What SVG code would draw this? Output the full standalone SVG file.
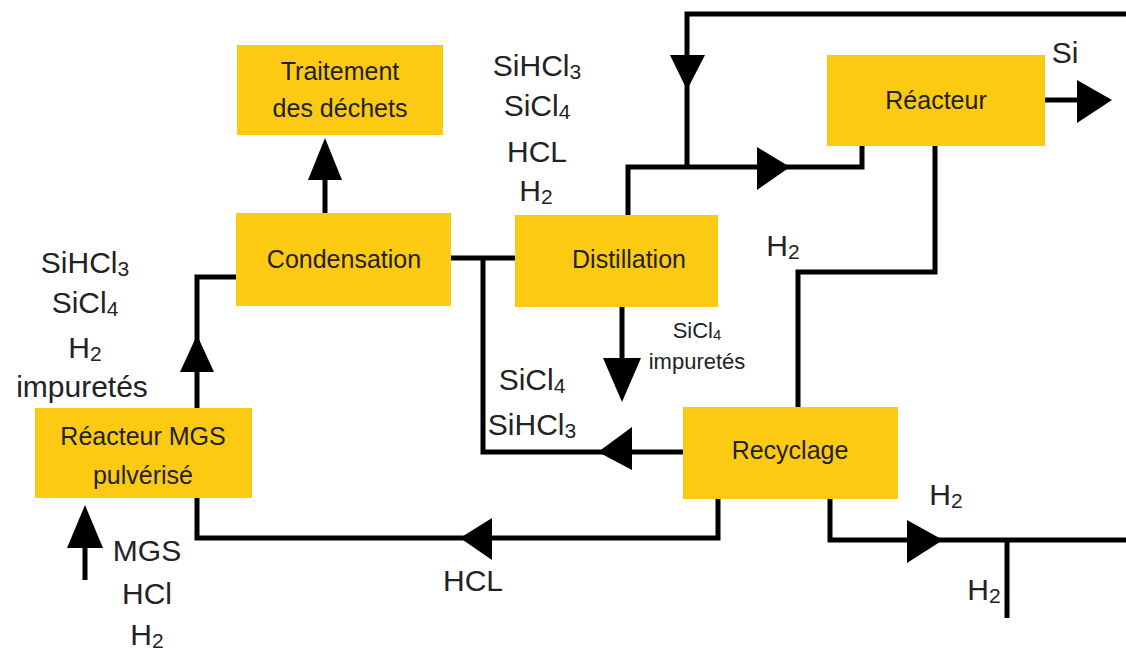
<svg xmlns="http://www.w3.org/2000/svg" width="1126" height="650" viewBox="0 0 1126 650">
<style>
.box{fill:#FCC913}
.bl{font-family:"Liberation Sans",Arial,sans-serif;font-size:25px;fill:#222;text-anchor:middle}
.lb{font-family:"Liberation Sans",Arial,sans-serif;font-size:30px;fill:#222;text-anchor:middle}
.sm{font-family:"Liberation Sans",Arial,sans-serif;font-size:22px;fill:#222;text-anchor:middle}
.sub{font-size:21px}
.ssub{font-size:15px}
.ln{fill:none;stroke:#000;stroke-width:5;stroke-linejoin:miter}
.ah{fill:#000}
</style>
<rect width="1126" height="650" fill="#fff"/>
<g id="connectors">
<polyline class="ln" points="197,408 197,277 236,277"/>
<polygon class="ah" points="197,335 180,372 214,372"/>
<polyline class="ln" points="325,213 325,145"/>
<polygon class="ah" points="325,138 308,180 342,180"/>
<polyline class="ln" points="451,258 515,258"/>
<polyline class="ln" points="483,258 483,452 683,452"/>
<polygon class="ah" points="598,452 632,427 632,470"/>
<polyline class="ln" points="622,307 622,380"/>
<polygon class="ah" points="622,402 603,358 641,358"/>
<polyline class="ln" points="628,215 628,167 862,167 862,146"/>
<polyline class="ln" points="1126,14 687,14 687,167"/>
<polygon class="ah" points="687,90 670,55 705,55"/>
<polygon class="ah" points="790,167 757,147 757,190"/>
<polyline class="ln" points="1045,100 1090,100"/>
<polygon class="ah" points="1112,100 1077,80 1077,123"/>
<polyline class="ln" points="935,146 935,272 798,272 798,407"/>
<polyline class="ln" points="830,499 830,540 1126,540"/>
<polygon class="ah" points="943,540 907,520 907,563"/>
<polyline class="ln" points="1007,540 1007,618"/>
<polyline class="ln" points="718,499 718,538 197,538 197,498"/>
<polygon class="ah" points="460,538 492,518 492,560"/>
<polyline class="ln" points="85,580 85,530"/>
<polygon class="ah" points="85,505 67,548 103,548"/>
</g>
<g id="traitement">
<rect class="box" x="237" y="45" width="206" height="90"/>
<text class="bl" x="340" y="80">Traitement</text>
<text class="bl" x="340" y="117">des déchets</text>
</g>
<g id="condensation">
<rect class="box" x="236" y="213" width="215" height="93"/>
<text class="bl" x="344" y="268">Condensation</text>
</g>
<g id="distillation">
<rect class="box" x="515" y="215" width="203" height="92"/>
<text class="bl" x="629" y="268">Distillation</text>
</g>
<g id="reacteur">
<rect class="box" x="827" y="55" width="218" height="91"/>
<text class="bl" x="936" y="109">Réacteur</text>
</g>
<g id="reacteur-mgs">
<rect class="box" x="35" y="408" width="217" height="90"/>
<text class="bl" x="143" y="445">Réacteur MGS</text>
<text class="bl" x="143" y="484">pulvérisé</text>
</g>
<g id="recyclage">
<rect class="box" x="683" y="407" width="215" height="92"/>
<text class="bl" x="790" y="459">Recyclage</text>
</g>
<g id="labels">
<text class="lb" x="85" y="273">SiHCl<tspan class="sub" dy="3">3</tspan></text>
<text class="lb" x="85" y="313">SiCl<tspan class="sub" dy="3">4</tspan></text>
<text class="lb" x="85" y="358">H<tspan class="sub" dy="3">2</tspan></text>
<text class="lb" x="82" y="397">impuretés</text>
<text class="lb" x="537" y="76">SiHCl<tspan class="sub" dy="3">3</tspan></text>
<text class="lb" x="537" y="116">SiCl<tspan class="sub" dy="3">4</tspan></text>
<text class="lb" x="537" y="162">HCL</text>
<text class="lb" x="536" y="201">H<tspan class="sub" dy="3">2</tspan></text>
<text class="sm" x="697" y="338">SiCl<tspan class="ssub" dy="2">4</tspan></text>
<text class="sm" x="697" y="369">impuretés</text>
<text class="lb" x="532" y="390">SiCl<tspan class="sub" dy="3">4</tspan></text>
<text class="lb" x="532" y="435">SiHCl<tspan class="sub" dy="3">3</tspan></text>
<text class="lb" x="147" y="561">MGS</text>
<text class="lb" x="147" y="604">HCl</text>
<text class="lb" x="147" y="645">H<tspan class="sub" dy="3">2</tspan></text>
<text class="lb" x="473" y="591">HCL</text>
<text class="lb" x="783" y="256">H<tspan class="sub" dy="3">2</tspan></text>
<text class="lb" x="946" y="505">H<tspan class="sub" dy="3">2</tspan></text>
<text class="lb" x="984" y="600">H<tspan class="sub" dy="3">2</tspan></text>
<text class="lb" x="1065" y="63">Si</text>
</g>
</svg>
